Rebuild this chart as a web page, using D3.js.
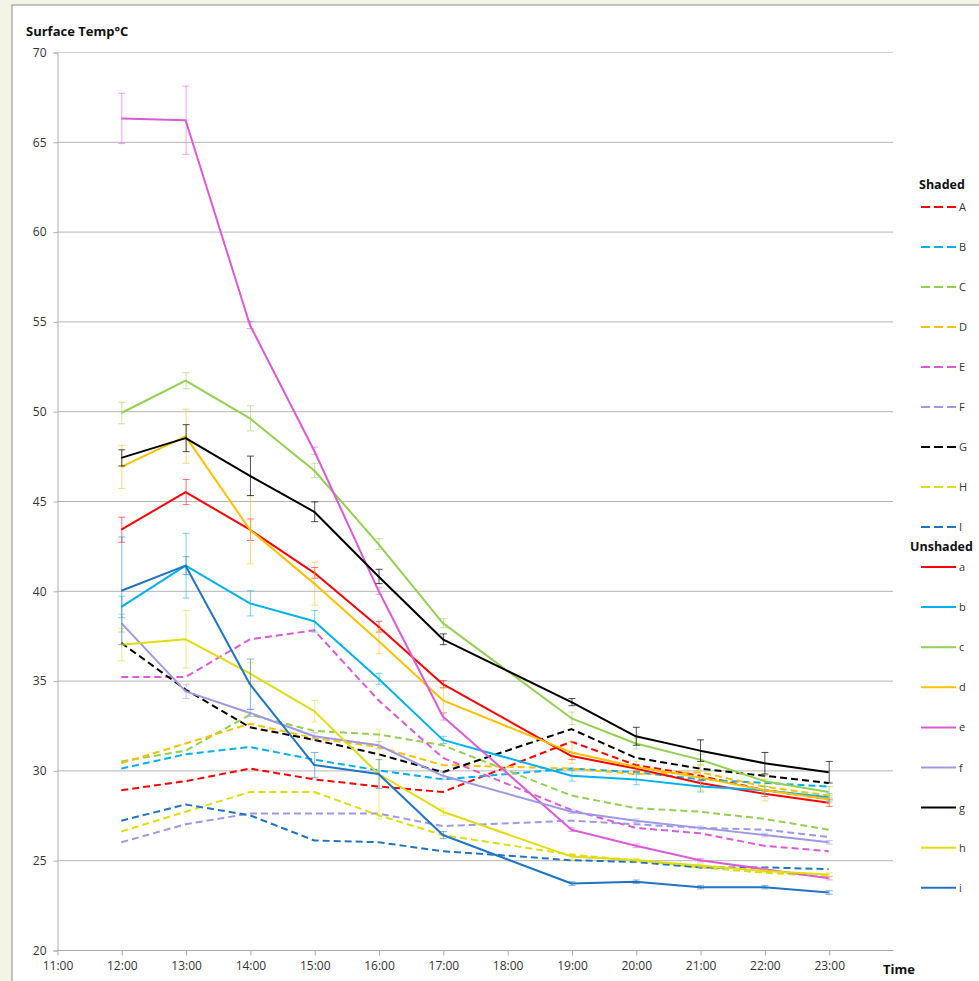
<!DOCTYPE html>
<html>
<head>
<meta charset="utf-8">
<script src="https://cdn.jsdelivr.net/npm/d3@7"></script>
<style>
  html, body { margin: 0; padding: 0; background: #f4f4e6; }
  svg { display: block; }
</style>
</head>
<body>
<svg id="chart" width="979" height="981"></svg>
<script>
// ---------- DATA ----------
const hours = [12, 13, 14, 15, 16, 17, 19, 20, 21, 22, 23];
const xTickHours = [11, 12, 13, 14, 15, 16, 17, 18, 19, 20, 21, 22, 23];
const xTickLabels = ["11:00","12:00","13:00","14:00","15:00","16:00","17:00","18:00","19:00","20:00","21:00","22:00","23:00"];
const yTicks = [20, 25, 30, 35, 40, 45, 50, 55, 60, 65, 70];

// Shaded (dashed)
const shadedA = [28.9, 29.4, 30.1, 29.5, 29.1, 28.8, 31.6, 30.3, 29.7, 28.9, 28.4];
const shadedB = [30.1, 30.9, 31.3, 30.6, 30.0, 29.5, 30.1, 29.9, 29.5, 29.3, 29.1];
const shadedC = [30.5, 31.1, 33.1, 32.2, 32.0, 31.4, 28.6, 27.9, 27.7, 27.3, 26.7];
const shadedD = [30.4, 31.5, 32.6, 31.8, 31.3, 30.3, 30.1, 29.8, 29.9, 29.1, 28.6];
const shadedE = [35.2, 35.2, 37.3, 37.8, 33.9, 30.7, 27.8, 26.8, 26.5, 25.8, 25.5];
const shadedF = [26.0, 27.0, 27.6, 27.6, 27.6, 26.9, 27.2, 27.0, 26.8, 26.7, 26.3];
const shadedG = [37.1, 34.5, 32.4, 31.7, 30.9, 29.9, 32.3, 30.7, 30.1, 29.7, 29.3];
const shadedH = [26.6, 27.7, 28.8, 28.8, 27.5, 26.4, 25.3, 25.0, 24.6, 24.3, 24.1];
const shadedI = [27.2, 28.1, 27.5, 26.1, 26.0, 25.5, 25.0, 24.9, 24.6, 24.6, 24.5];

// Unshaded (solid) with error bars
const unshadedA = [43.4, 45.5, 43.4, 41.0, 38.0, 34.8, 30.8, 30.1, 29.3, 28.7, 28.2];
const unshadedB = [39.1, 41.4, 39.3, 38.3, 35.1, 31.7, 29.7, 29.5, 29.1, 28.9, 28.5];
const unshadedC = [49.9, 51.7, 49.6, 46.7, 42.6, 38.2, 32.9, 31.5, 30.6, 29.4, 28.8];
const unshadedD = [46.9, 48.6, 43.4, 40.4, 37.2, 33.9, 31.0, 30.2, 29.6, 28.9, 28.4];
const unshadedE = [66.3, 66.2, 54.8, 47.8, 40.0, 33.0, 26.7, 25.8, 25.0, 24.5, 24.0];
const unshadedF = [38.2, 34.4, 33.2, 31.9, 31.4, 29.7, 27.7, 27.2, 26.8, 26.4, 26.0];
const unshadedG = [47.4, 48.5, 46.4, 44.4, 40.8, 37.3, 33.8, 31.9, 31.1, 30.4, 29.9];
const unshadedH = [37.0, 37.3, 35.4, 33.3, 29.8, 27.7, 25.2, 25.0, 24.7, 24.4, 24.2];
const unshadedI = [40.0, 41.4, 34.8, 30.3, 29.8, 26.4, 23.7, 23.8, 23.5, 23.5, 23.2];

const errA = [0.7, 0.7, 0.6, 0.3, 0.3, 0.2, 0.2, 0.15, 0.15, 0.15, 0.2];
const errB = [0.6, 1.8, 0.7, 0.6, 0.3, 0.2, 0.3, 0.3, 0.3, 0.2, 0.2];
const errC = [0.6, 0.45, 0.7, 0.4, 0.3, 0.25, 0.35, 0.3, 0.3, 0.3, 0.3];
const errD = [1.2, 1.5, 1.9, 1.2, 0.7, 0.7, 0.6, 0.3, 0.7, 0.6, 0.2];
const errE = [1.4, 1.9, 0.2, 0.2, 0.2, 0.2, 0.1, 0.1, 0.1, 0.1, 0.1];
const errF = [0.5, 0.4, 0.2, 0.2, 0.2, 0.2, 0.1, 0.1, 0.1, 0.1, 0.1];
const errG = [0.45, 0.75, 1.1, 0.55, 0.4, 0.3, 0.2, 0.5, 0.6, 0.6, 0.6];
const errH = [0.9, 1.6, 0.6, 0.6, 2.5, 0.2, 0.15, 0.1, 0.1, 0.1, 0.1];
const errI = [3.0, 0.5, 1.4, 0.7, 0.8, 0.2, 0.1, 0.1, 0.1, 0.1, 0.1];

const shadedNames = ["A","B","C","D","E","F","G","H","I"];
const unshadedNames = ["a","b","c","d","e","f","g","h","i"];
const colors = ["#ff0000","#00b0f0","#92d050","#ffc000","#dc5ad6","#9d99e8","#000000","#e0dc10","#1f74c4"];

const shadedValues = [shadedA, shadedB, shadedC, shadedD, shadedE, shadedF, shadedG, shadedH, shadedI];
const unshadedValues = [unshadedA, unshadedB, unshadedC, unshadedD, unshadedE, unshadedF, unshadedG, unshadedH, unshadedI];
const unshadedErrors = [errA, errB, errC, errD, errE, errF, errG, errH, errI];

// ---------- DRAW ----------
const svg = d3.select("#chart");
const font = "'Open Sans', 'Liberation Sans', sans-serif";

svg.append("rect").attr("x", 12).attr("y", 5).attr("width", 1000).attr("height", 1000)
  .attr("fill", "#ffffff").attr("stroke", "#8a8a8a").attr("stroke-width", 1);

const x = d3.scaleLinear().domain([11, 24]).range([57, 893]);
const y = d3.scaleLinear().domain([20, 70]).range([950, 52]);

// gridlines
svg.append("g").selectAll("line").data(yTicks.filter(t => t > 20)).join("line")
  .attr("x1", x(11)).attr("x2", x(24))
  .attr("y1", d => y(d) + 0.5).attr("y2", d => y(d) + 0.5)
  .attr("stroke", d => d === 70 ? "#d0d0d0" : "#b4b4b4").attr("stroke-width", 1);

// y axis
const yAxis = d3.axisLeft(y).tickValues(yTicks).tickSize(4).tickPadding(7).tickFormat(d3.format("d"));
const gy = svg.append("g").attr("transform", `translate(${x(11) + 0.5},0.5)`).call(yAxis);
gy.select(".domain").attr("stroke", "#b0b0b0");
gy.selectAll(".tick line").attr("stroke", "#b0b0b0");
gy.selectAll(".tick text").attr("font-family", font).attr("font-size", 12).attr("fill", "#333");

// x axis
const xAxis = d3.axisBottom(x).tickValues(xTickHours).tickSize(5).tickPadding(6)
  .tickFormat((d, i) => xTickLabels[i]);
const gx = svg.append("g").attr("transform", `translate(0.5,${y(20) + 0.5})`).call(xAxis);
gx.select(".domain").attr("stroke", "#a8a8a8").attr("d", `M${x(11)},0H${x(24)}`);
gx.selectAll(".tick line").attr("stroke", "#a8a8a8");
gx.selectAll(".tick text").attr("font-family", font).attr("font-size", 12).attr("fill", "#333");

// titles
svg.append("text").attr("x", 26).attr("y", 36).text("Surface Temp°C")
  .attr("font-family", font).attr("font-size", 13).attr("font-weight", "bold").attr("fill", "#111");
svg.append("text").attr("x", 883).attr("y", 974).text("Time")
  .attr("font-family", font).attr("font-size", 13).attr("font-weight", "bold").attr("fill", "#111");

const line = d3.line().x((d, i) => x(hours[i])).y(d => y(d));

// shaded dashed lines
const gShaded = svg.append("g");
shadedValues.forEach((vals, k) => {
  gShaded.append("path").datum(vals).attr("d", line)
    .attr("fill", "none").attr("stroke", colors[k]).attr("stroke-width", 2)
    .attr("stroke-dasharray", "7,4").attr("stroke-linejoin", "round");
});

// unshaded solid lines with error bars
const gUn = svg.append("g");
unshadedValues.forEach((vals, k) => {
  const errs = unshadedErrors[k];
  const eg = gUn.append("g").attr("stroke", colors[k])
    .attr("stroke-opacity", k === 6 ? 0.7 : 0.55).attr("stroke-width", 1);
  const pts = vals.map((v, i) => ({ h: hours[i], v: v, e: errs[i] }));
  eg.selectAll("line.v").data(pts).join("line").attr("class", "v")
    .attr("x1", d => x(d.h) + 0.5).attr("x2", d => x(d.h) + 0.5)
    .attr("y1", d => y(d.v + d.e)).attr("y2", d => y(d.v - d.e));
  eg.selectAll("line.t").data(pts).join("line").attr("class", "t")
    .attr("x1", d => x(d.h) - 3).attr("x2", d => x(d.h) + 4)
    .attr("y1", d => y(d.v + d.e)).attr("y2", d => y(d.v + d.e));
  eg.selectAll("line.b").data(pts).join("line").attr("class", "b")
    .attr("x1", d => x(d.h) - 3).attr("x2", d => x(d.h) + 4)
    .attr("y1", d => y(d.v - d.e)).attr("y2", d => y(d.v - d.e));
  gUn.append("path").datum(vals).attr("d", line)
    .attr("fill", "none").attr("stroke", colors[k]).attr("stroke-width", 2)
    .attr("stroke-linejoin", "round");
});

// legend
const lg = svg.append("g");
lg.append("text").attr("x", 919).attr("y", 189).text("Shaded")
  .attr("font-family", font).attr("font-size", 12.5).attr("font-weight", "bold").attr("fill", "#111");
shadedNames.forEach((n, k) => {
  const yy = 207 + k * 40;
  lg.append("line").attr("x1", 921).attr("x2", 956).attr("y1", yy).attr("y2", yy)
    .attr("stroke", colors[k]).attr("stroke-width", 2).attr("stroke-dasharray", "9,4");
  lg.append("text").attr("x", 959).attr("y", yy + 4).text(n)
    .attr("font-family", font).attr("font-size", 11).attr("fill", "#333");
});
lg.append("text").attr("x", 910).attr("y", 551).text("Unshaded")
  .attr("font-family", font).attr("font-size", 12.5).attr("font-weight", "bold").attr("fill", "#111");
unshadedNames.forEach((n, k) => {
  const yy = 567 + k * 40.1;
  lg.append("line").attr("x1", 921).attr("x2", 956).attr("y1", yy).attr("y2", yy)
    .attr("stroke", colors[k]).attr("stroke-width", 2);
  lg.append("text").attr("x", 959).attr("y", yy + 4).text(n)
    .attr("font-family", font).attr("font-size", 11).attr("fill", "#333");
});
</script>
</body>
</html>
